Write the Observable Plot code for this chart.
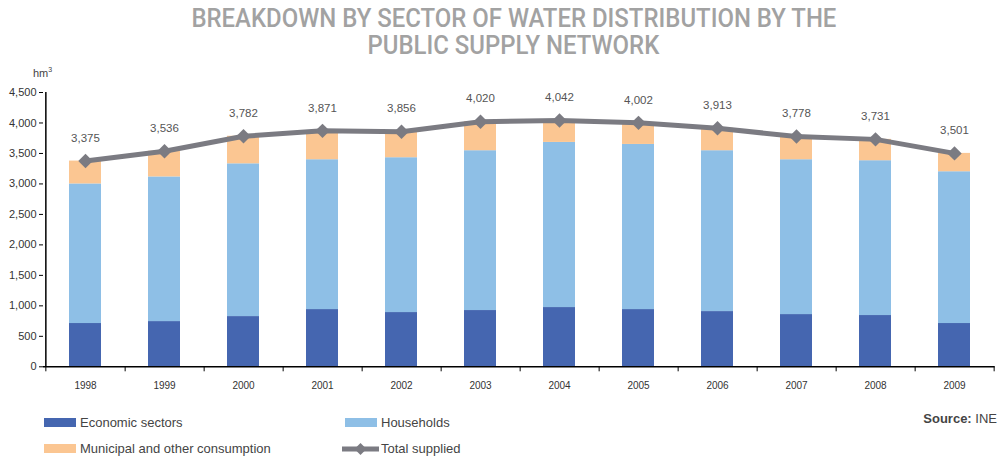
<!DOCTYPE html>
<html>
<head>
<meta charset="utf-8">
<script src="https://cdn.jsdelivr.net/npm/d3@7"></script>
<script src="https://cdn.jsdelivr.net/npm/@observablehq/plot@0.6"></script>
<style>
  html, body { margin: 0; padding: 0; background: #fff; }
  #wrap { position: relative; width: 1003px; height: 458px; font-family: "Liberation Sans", Arial, sans-serif; overflow: hidden; }
  .tl { position: absolute; left: 0; width: 1003px; text-align: center; font-family: Roboto, "Liberation Sans", sans-serif; font-weight: 500; font-size: 25px; line-height: 25px; height: 25px; color: #a2a2a2; white-space: nowrap; }
  .tl span { display: inline-block; transform-origin: 50% 50%; }
  #chart { position: absolute; left: 0; top: 58px; }
  #unit { position: absolute; left: 33px; top: 66px; font-size: 11px; color: #444; }
  #unit sup { font-size: 7px; }
  .lg { position: absolute; font-size: 13px; color: #444; display: flex; align-items: center; white-space: nowrap; }
  .sw { width: 32px; height: 9px; margin-right: 4px; }
  #source { position: absolute; right: 6px; top: 411px; font-size: 13px; color: #444; }
</style>
</head>
<body>
<div id="wrap">
  <div class="tl" id="t1" style="top:6px; left:12px"><span>BREAKDOWN BY SECTOR OF WATER DISTRIBUTION BY THE</span></div>
  <div class="tl" id="t2" style="top:33px; left:12px"><span>PUBLIC SUPPLY NETWORK</span></div>
  <div id="unit">hm<sup>3</sup></div>
  <div id="chart"></div>
  <div id="legend"></div>
  <div id="source"><b>Source:</b> INE</div>
</div>
<script>
const years = [1998, 1999, 2000, 2001, 2002, 2003, 2004, 2005, 2006, 2007, 2008, 2009];
const economicSectors = [710, 742, 824, 939, 890, 923, 972, 939, 906, 857, 841, 710];
const households = [2290, 2373, 2506, 2458, 2540, 2622, 2709, 2709, 2639, 2540, 2540, 2490];
const municipal = [375, 421, 452, 474, 426, 475, 361, 354, 368, 381, 350, 301];
const totalSupplied = [3375, 3536, 3782, 3871, 3856, 4020, 4042, 4002, 3913, 3778, 3731, 3501];
const seriesNames = ["Economic sectors", "Households", "Municipal and other consumption"];
const seriesColors = ["#4566b0", "#8ebfe6", "#fbc692"];
const lineName = "Total supplied";
const lineColor = "#7b7b82";
const yTicks = [0, 500, 1000, 1500, 2000, 2500, 3000, 3500, 4000, 4500];

// Title: condense to the reference's width
{
  const s1 = document.querySelector("#t1 span");
  const s2 = document.querySelector("#t2 span");
  const k = 645 / s1.getBoundingClientRect().width;
  s1.style.transform = `scaleX(${k})`;
  s2.style.transform = `scaleX(${k})`;
}

const seriesValues = [economicSectors, households, municipal];
const rows = years.flatMap((yr, i) => seriesNames.map((s, k) => ({year: yr, series: s, value: seriesValues[k][i]})));
const totals = years.map((yr, i) => ({year: yr, total: totalSupplied[i]}));

const W = 1003, H = 340, ML = 43, MR = 8.4, MT = 34, MB = 31.7;
const step = (W - ML - MR) / years.length;

const chart = Plot.plot({
  width: W, height: H,
  marginLeft: ML, marginRight: MR, marginTop: MT, marginBottom: MB,
  style: {fontFamily: "'Liberation Sans', Arial, sans-serif", fontSize: "11px", color: "#333", background: "transparent"},
  x: {type: "band", domain: years, paddingInner: 0.6, paddingOuter: 0.3, label: null},
  y: {domain: [0, 4500], label: null},
  color: {domain: seriesNames, range: seriesColors},
  marks: [
    Plot.barY(rows, {x: "year", y: "value", fill: "series", order: seriesNames}),
    Plot.axisY({ticks: yTicks, tickSize: 4, tickPadding: 3, tickFormat: d3.format(","), stroke: "#000", fill: "#333", fontSize: 11}),
    Plot.axisX({ticks: years, tickSize: 5, tickFormat: () => "", dx: step / 2, stroke: "#000"}),
    Plot.axisX({ticks: [years[0]], tickSize: 5, tickFormat: () => "", dx: -step / 2, stroke: "#000"}),
    Plot.axisX({ticks: years, tickSize: 0, tickPadding: 15, tickFormat: d => String(d), fill: "#333", fontSize: 10}),
    Plot.ruleY([0], {stroke: "#000", strokeWidth: 1.5}),
    Plot.ruleX([years[0]], {dx: -step / 2, stroke: "#000", strokeWidth: 1.5}),
    Plot.line(totals, {x: "year", y: "total", stroke: lineColor, strokeWidth: 5}),
    Plot.dot(totals, {x: "year", y: "total", symbol: "diamond2", r: 6.5, fill: lineColor, stroke: "none"}),
    Plot.text(totals, {x: "year", y: "total", text: d => d3.format(",")(d.total), dy: -23, fill: "#555", fontSize: 11.5})
  ]
});
document.getElementById("chart").appendChild(chart);

// Legend
const legend = document.getElementById("legend");
const items = [
  {name: seriesNames[0], color: seriesColors[0], left: 44, top: 415},
  {name: seriesNames[1], color: seriesColors[1], left: 345, top: 415},
  {name: seriesNames[2], color: seriesColors[2], left: 44, top: 441},
  {name: lineName, color: lineColor, left: 342, top: 441, line: true}
];
for (const it of items) {
  const d = document.createElement("div");
  d.className = "lg";
  d.style.left = it.left + "px";
  d.style.top = it.top + "px";
  if (it.line) {
    d.innerHTML = `<svg width="37" height="14" style="margin-right:2px"><line x1="0" y1="7" x2="37" y2="7" stroke="${it.color}" stroke-width="5"/><path d="M18.5,1 L24.5,7 L18.5,13 L12.5,7 Z" fill="${it.color}"/></svg><span>${it.name}</span>`;
  } else {
    d.innerHTML = `<div class="sw" style="background:${it.color}"></div><span>${it.name}</span>`;
  }
  legend.appendChild(d);
}
</script>
</body>
</html>
